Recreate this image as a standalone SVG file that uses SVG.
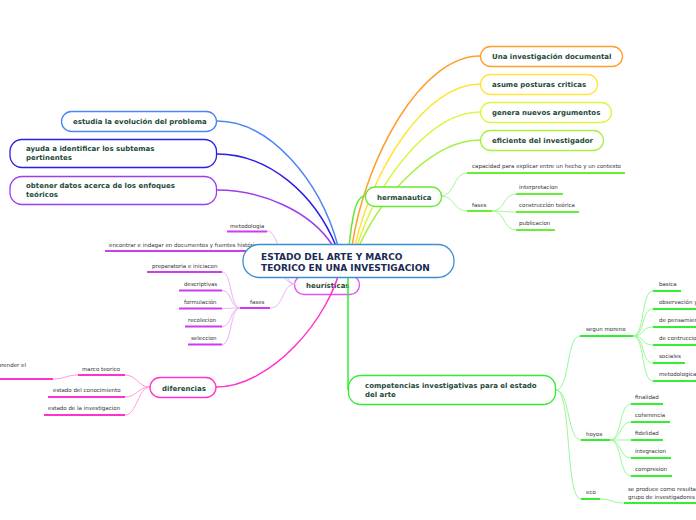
<svg xmlns="http://www.w3.org/2000/svg" width="696" height="520" viewBox="0 0 696 520">
<style>
.nt{font-family:"DejaVu Sans","Liberation Sans",sans-serif;font-weight:bold;font-size:7px;fill:#1e4a3a}
.ht{font-family:"DejaVu Sans","Liberation Sans",sans-serif;font-weight:bold;font-size:9px;fill:#1b2a55}
.ct{font-family:"DejaVu Sans","Liberation Sans",sans-serif;font-size:5.5px;fill:#333}
.box{fill:#fff;stroke-width:1.3}
.u{stroke-width:2;fill:none}
.c{fill:none}
.pu{stroke:#cf3cf0}
.mg{stroke:#ff33cc}
.hg{stroke:#66ee33}
.cg{stroke:#33ee33}
</style>
<rect width="696" height="520" fill="#fff"/>

<g id="node-heuristicas">
<rect class="box" x="294.5" y="275.5" width="65" height="19" rx="9.5" stroke="#e050f5"/>
<text class="nt" x="306" y="288">heurísticas</text>
</g>

<g id="connectors">
<path class="c" d="M352,246 C365,160 420,56 480,56" stroke="#ff9e2c" stroke-width="1.5"/>
<path class="c" d="M355,246 C372,170 425,84 480,84" stroke="#ffe53b" stroke-width="1.5"/>
<path class="c" d="M357,246 C378,180 430,112 480,112" stroke="#ddf545" stroke-width="1.5"/>
<path class="c" d="M359,246 C385,190 435,140 480,140" stroke="#a8f040" stroke-width="1.5"/>
<path class="c" d="M349,246 C352,220 355,196 365,196" stroke="#66e833" stroke-width="1.5"/>
<path class="c" d="M338,246 C320,180 270,121 217,121" stroke="#4a86f7" stroke-width="1.5"/>
<path class="c" d="M336,246 C315,195 270,154 217,154" stroke="#2a1ee8" stroke-width="1.5"/>
<path class="c" d="M333,246 C310,210 260,190 217,190" stroke="#9b3cf0" stroke-width="1.5"/>
<path class="c" d="M342,262 C330,320 270,387 216,387" stroke="#ff33cc" stroke-width="1.5"/>
<path class="c" d="M348,262 L348,390" stroke="#33ee33" stroke-width="1.5"/>
<g stroke="#eeb0f8" stroke-width="1" fill="none">
<path d="M295,284 C280,284 282,231 267,231"/>
<path d="M295,284 C280,284 276,251 261,251"/>
<path d="M295,284 C282,284 284,308 270,308"/>
<path d="M240,308 C230,308 232,272 222,272"/>
<path d="M240,308 C230,308 232,290.5 222,290.5"/>
<path d="M240,308 C230,308 232,308.5 222,308.5"/>
<path d="M240,308 C230,308 232,326.5 222,326.5"/>
<path d="M240,308 C230,308 232,344.5 222,344.5"/>
</g>
<g stroke="#ff9be0" stroke-width="1" fill="none">
<path d="M150,387 C138,387 137,375 125,375"/>
<path d="M150,387 C138,387 137,397 125,397"/>
<path d="M150,387 C138,387 137,415 125,415"/>
<path d="M78,375 C66,375 65,379 53,379"/>
</g>
<g stroke="#a8f59a" stroke-width="1" fill="none">
<path d="M441,196 C455,196 453,173 467,173"/>
<path d="M441,196 C455,196 453,211 467,211"/>
<path d="M492,211 C505,211 503,194 516,194"/>
<path d="M492,211 C505,211 503,212 516,212"/>
<path d="M492,211 C505,211 503,230 516,230"/>
</g>
<g stroke="#99f799" stroke-width="1" fill="none">
<path d="M556,390 C570,390 566,336 580,336"/>
<path d="M556,390 C570,390 567,440 581,440"/>
<path d="M556,390 C572,390 565,499 581,499"/>
<path d="M633,336 C645,336 641,291 653,291"/>
<path d="M633,336 C645,336 641,309 653,309"/>
<path d="M633,336 C645,336 641,327 653,327"/>
<path d="M633,336 C645,336 641,345 653,345"/>
<path d="M633,336 C645,336 641,363 653,363"/>
<path d="M633,336 C645,336 641,381 653,381"/>
<path d="M610,440 C622,440 619,404 631,404"/>
<path d="M610,440 C622,440 619,422 631,422"/>
<path d="M610,440 C622,440 619,440 631,440"/>
<path d="M610,440 C622,440 619,458 631,458"/>
<path d="M610,440 C622,440 619,476 631,476"/>
<path d="M600,499 C612,499 612,503 624,503"/>
</g>
</g>

<g id="node-doc">
<rect class="box" x="480.5" y="46.5" width="142" height="20" rx="10" stroke="#ff9e2c"/>
<text class="nt" x="492" y="59">Una investigación documental</text>
</g>
<g id="node-posturas">
<rect class="box" x="480.5" y="74.5" width="117" height="20" rx="10" stroke="#ffe53b"/>
<text class="nt" x="492" y="87">asume posturas criticas</text>
</g>
<g id="node-argumentos">
<rect class="box" x="480.5" y="102.5" width="131" height="20" rx="10" stroke="#ddf545"/>
<text class="nt" x="492" y="115">genera nuevos argumentos</text>
</g>
<g id="node-eficiente">
<rect class="box" x="480.5" y="130.5" width="123" height="20" rx="10" stroke="#a8f040"/>
<text class="nt" x="492" y="143">eficiente del investigador</text>
</g>

<g id="node-hermanautica">
<rect class="box" x="365.5" y="187" width="76" height="19.5" rx="9.5" stroke="#66e833"/>
<text class="nt" x="377" y="199.5">hermanautica</text>
</g>
<g id="h-capacidad"><line class="u hg" x1="467" y1="173" x2="625" y2="173"/><text class="ct" x="472" y="168">capacidad para explicar entre un hecho y un contexto</text></g>
<g id="h-fases"><line class="u hg" x1="467" y1="211" x2="492" y2="211"/><text class="ct" x="472" y="207">fases</text></g>
<g id="h-interpretacion"><line class="u hg" x1="516" y1="194" x2="563" y2="194"/><text class="ct" x="519" y="189">interpretacion</text></g>
<g id="h-construccion"><line class="u hg" x1="516" y1="212" x2="579" y2="212"/><text class="ct" x="519" y="207">construcción teórica</text></g>
<g id="h-publicacion"><line class="u hg" x1="516" y1="230" x2="555" y2="230"/><text class="ct" x="519" y="225">publicacion</text></g>

<g id="node-evolucion">
<rect class="box" x="61.5" y="111.5" width="155" height="20" rx="10" stroke="#4a86f7"/>
<text class="nt" x="73" y="124">estudia la evolución del problema</text>
</g>
<g id="node-subtemas">
<rect class="box" x="10" y="139.5" width="206.5" height="28" rx="12" stroke="#2a1ee8"/>
<text class="nt" x="26" y="151">ayuda a identificar los subtemas</text>
<text class="nt" x="26" y="160">pertinentes</text>
</g>
<g id="node-enfoques">
<rect class="box" x="10" y="176.5" width="206.5" height="28" rx="12" stroke="#9b3cf0"/>
<text class="nt" x="26" y="188">obtener datos acerca de los enfoques</text>
<text class="nt" x="26" y="197">teóricos</text>
</g>

<g id="e-metodologia"><line class="u pu" x1="227" y1="231.5" x2="267" y2="231.5"/><text class="ct" x="230" y="228">metodologia</text></g>
<g id="e-encontrar"><line class="u pu" x1="105" y1="251" x2="262" y2="251"/><text class="ct" x="109" y="246.5">encontrar e indagar en documentos y fuentes históricas</text></g>
<g id="e-fases"><line class="u pu" x1="240" y1="308" x2="270" y2="308"/><text class="ct" x="250" y="304">fases</text></g>
<g id="e-preparatoria"><line class="u pu" x1="147" y1="272" x2="222" y2="272"/><text class="ct" x="152" y="268">preparatoria e iniciacon</text></g>
<g id="e-descriptivas"><line class="u pu" x1="179" y1="290.5" x2="222" y2="290.5"/><text class="ct" x="184" y="286">descriptivas</text></g>
<g id="e-formulacion"><line class="u pu" x1="179" y1="308.5" x2="222" y2="308.5"/><text class="ct" x="184" y="304">formulación</text></g>
<g id="e-recolecion"><line class="u pu" x1="185" y1="326.5" x2="222" y2="326.5"/><text class="ct" x="188" y="322">recolecion</text></g>
<g id="e-seleccion"><line class="u pu" x1="188" y1="344.5" x2="222" y2="344.5"/><text class="ct" x="191" y="340">seleccion</text></g>

<g id="node-diferencias">
<rect class="box" x="150" y="377.5" width="66" height="20" rx="10" stroke="#ff33cc"/>
<text class="nt" x="162" y="390.5">diferencias</text>
</g>
<g id="d-marco"><line class="u mg" x1="78" y1="375" x2="125" y2="375"/><text class="ct" x="82" y="371">marco teorico</text></g>
<g id="d-comprender"><line class="u mg" x1="0" y1="379" x2="53" y2="379"/><text class="ct" x="26" y="367" text-anchor="end">comprender el</text></g>
<g id="d-conocimiento"><line class="u mg" x1="48" y1="397" x2="125" y2="397"/><text class="ct" x="53" y="392">estado del conocimiento</text></g>
<g id="d-investigacion"><line class="u mg" x1="44" y1="415" x2="125" y2="415"/><text class="ct" x="48" y="410">estado de la investigacion</text></g>

<g id="node-competencias">
<rect class="box" x="348.5" y="375.5" width="207" height="29" rx="12" stroke="#33ee33"/>
<text class="nt" x="365" y="387.5">competencias investigativas para el estado</text>
<text class="nt" x="365" y="396.5">del arte</text>
</g>
<g id="c-moreno"><line class="u cg" x1="580" y1="336" x2="633" y2="336"/><text class="ct" x="586" y="331">segun moreno</text></g>
<g id="c-basica"><line class="u cg" x1="653" y1="291" x2="681" y2="291"/><text class="ct" x="659" y="286">basica</text></g>
<g id="c-observacion"><line class="u cg" x1="653" y1="309" x2="700" y2="309"/><text class="ct" x="659" y="304">observación y descripción</text></g>
<g id="c-pensamiento"><line class="u cg" x1="653" y1="327" x2="700" y2="327"/><text class="ct" x="659" y="322">de pensamiento</text></g>
<g id="c-contruccion"><line class="u cg" x1="653" y1="345" x2="700" y2="345"/><text class="ct" x="659" y="340">de contruccion conceptual</text></g>
<g id="c-sociales"><line class="u cg" x1="653" y1="363" x2="685" y2="363"/><text class="ct" x="659" y="358">sociales</text></g>
<g id="c-metodologicas"><line class="u cg" x1="653" y1="381" x2="700" y2="381"/><text class="ct" x="659" y="376">metodologicas</text></g>
<g id="c-hoyos"><line class="u cg" x1="581" y1="440" x2="610" y2="440"/><text class="ct" x="586" y="436">hoyos</text></g>
<g id="c-finalidad"><line class="u cg" x1="631" y1="404" x2="663" y2="404"/><text class="ct" x="635" y="399">finalidad</text></g>
<g id="c-coherencia"><line class="u cg" x1="631" y1="422" x2="670" y2="422"/><text class="ct" x="635" y="417">coherencia</text></g>
<g id="c-fidelidad"><line class="u cg" x1="631" y1="440" x2="663" y2="440"/><text class="ct" x="635" y="435">fidelidad</text></g>
<g id="c-integracion"><line class="u cg" x1="631" y1="458" x2="671" y2="458"/><text class="ct" x="635" y="453">integracion</text></g>
<g id="c-compresion"><line class="u cg" x1="631" y1="476" x2="672" y2="476"/><text class="ct" x="635" y="471">compresion</text></g>
<g id="c-eco"><line class="u cg" x1="581" y1="499" x2="600" y2="499"/><text class="ct" x="586" y="494">eco</text></g>
<g id="c-produce"><line class="u cg" x1="624" y1="503" x2="700" y2="503"/><text class="ct" x="628" y="491">se produce como resultado del</text><text class="ct" x="628" y="498.5">grupo de investigadores</text></g>

<g id="node-central">
<rect class="box" x="243" y="244.5" width="211" height="33" rx="16" stroke="#3b8ed6" stroke-width="1.4"/>
<text class="ht" x="261" y="259.5">ESTADO DEL ARTE Y MARCO</text>
<text class="ht" x="261" y="270.5">TEORICO EN UNA INVESTIGACION</text>
</g>
</svg>
